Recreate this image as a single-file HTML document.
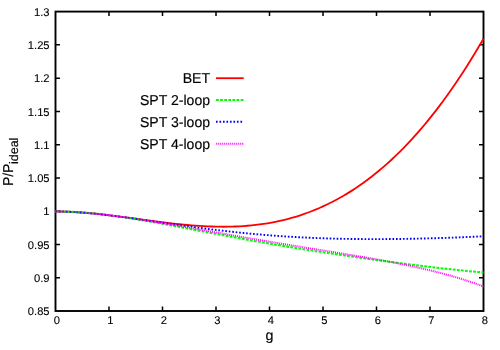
<!DOCTYPE html>
<html><head><meta charset="utf-8"><title>chart</title>
<style>
html,body{margin:0;padding:0;background:#fff;}
body{width:500px;height:350px;overflow:hidden;}
svg{display:block;will-change:transform;}
text{font-family:"Liberation Sans",sans-serif;fill:#000;text-rendering:geometricPrecision;}
.t{font-size:11.2px;stroke:#000;stroke-width:0.1px;}
.l{font-size:14.3px;stroke:#000;stroke-width:0.15px;}
</style></head><body>
<svg width="500" height="350" viewBox="0 0 500 350">
<rect x="0" y="0" width="500" height="350" fill="#fff"/>

<rect x="55.5" y="11.6" width="428.0" height="299.4" fill="none" stroke="#000" stroke-width="1.9"/>
<text class="t" x="56.90" y="324.1" text-anchor="middle">0</text>
<text class="t" x="110.40" y="324.1" text-anchor="middle">1</text>
<text class="t" x="163.90" y="324.1" text-anchor="middle">2</text>
<text class="t" x="217.40" y="324.1" text-anchor="middle">3</text>
<text class="t" x="270.90" y="324.1" text-anchor="middle">4</text>
<text class="t" x="324.40" y="324.1" text-anchor="middle">5</text>
<text class="t" x="377.90" y="324.1" text-anchor="middle">6</text>
<text class="t" x="431.40" y="324.1" text-anchor="middle">7</text>
<text class="t" x="484.90" y="324.1" text-anchor="middle">8</text>
<text class="t" x="49.6" y="15.80" text-anchor="end">1.3</text>
<text class="t" x="49.6" y="49.07" text-anchor="end">1.25</text>
<text class="t" x="49.6" y="82.33" text-anchor="end">1.2</text>
<text class="t" x="49.6" y="115.60" text-anchor="end">1.15</text>
<text class="t" x="49.6" y="148.87" text-anchor="end">1.1</text>
<text class="t" x="49.6" y="182.13" text-anchor="end">1.05</text>
<text class="t" x="49.6" y="215.40" text-anchor="end">1</text>
<text class="t" x="49.6" y="248.67" text-anchor="end">0.95</text>
<text class="t" x="49.6" y="281.93" text-anchor="end">0.9</text>
<text class="t" x="49.6" y="315.20" text-anchor="end">0.85</text>
<path d="M109.00,311.0 v-4.5 M109.00,11.6 v4.5 M162.50,311.0 v-4.5 M162.50,11.6 v4.5 M216.00,311.0 v-4.5 M216.00,11.6 v4.5 M269.50,311.0 v-4.5 M269.50,11.6 v4.5 M323.00,311.0 v-4.5 M323.00,11.6 v4.5 M376.50,311.0 v-4.5 M376.50,11.6 v4.5 M430.00,311.0 v-4.5 M430.00,11.6 v4.5 M55.5,44.87 h4.5 M483.5,44.87 h-4.5 M55.5,78.13 h4.5 M483.5,78.13 h-4.5 M55.5,111.40 h4.5 M483.5,111.40 h-4.5 M55.5,144.67 h4.5 M483.5,144.67 h-4.5 M55.5,177.93 h4.5 M483.5,177.93 h-4.5 M55.5,211.20 h4.5 M483.5,211.20 h-4.5 M55.5,244.47 h4.5 M483.5,244.47 h-4.5 M55.5,277.73 h4.5 M483.5,277.73 h-4.5" stroke="#000" stroke-width="1.5" fill="none"/>
<g fill="none" stroke-linejoin="round">
<path d="M55.50,211.51 L59.50,211.52 L63.50,211.59 L67.50,211.71 L71.50,211.87 L75.50,212.08 L79.50,212.33 L83.50,212.63 L87.50,212.95 L91.50,213.31 L95.50,213.71 L99.50,214.13 L103.50,214.57 L107.50,215.04 L111.50,215.52 L115.50,216.02 L119.50,216.54 L123.50,217.07 L127.50,217.61 L131.50,218.15 L135.50,218.70 L139.50,219.24 L143.50,219.79 L147.50,220.33 L151.50,220.87 L155.50,221.40 L159.50,221.91 L163.50,222.41 L167.50,222.90 L171.50,223.37 L175.50,223.81 L179.50,224.24 L183.50,224.64 L187.50,225.01 L191.50,225.35 L195.50,225.66 L199.50,225.93 L203.50,226.17 L207.50,226.37 L211.50,226.52 L215.50,226.64 L219.50,226.71 L223.50,226.73 L227.50,226.70 L231.50,226.63 L235.50,226.49 L239.50,226.31 L243.50,226.06 L247.50,225.76 L251.50,225.39 L255.50,224.97 L259.50,224.47 L263.50,223.91 L267.50,223.28 L271.50,222.58 L275.50,221.81 L279.50,220.96 L283.50,220.03 L287.50,219.03 L291.50,217.95 L295.50,216.78 L299.50,215.53 L303.50,214.20 L307.50,212.77 L311.50,211.26 L315.50,209.66 L319.50,207.96 L323.50,206.17 L327.50,204.29 L331.50,202.31 L335.50,200.22 L339.50,198.04 L343.50,195.75 L347.50,193.36 L351.50,190.87 L355.50,188.26 L359.50,185.55 L363.50,182.72 L367.50,179.79 L371.50,176.73 L375.50,173.57 L379.50,170.28 L383.50,166.88 L387.50,163.35 L391.50,159.71 L395.50,155.94 L399.50,152.04 L403.50,148.02 L407.50,143.87 L411.50,139.59 L415.50,135.18 L419.50,130.64 L423.50,125.96 L427.50,121.14 L431.50,116.19 L435.50,111.10 L439.50,105.87 L443.50,100.50 L447.50,94.98 L451.50,89.32 L455.50,83.51 L459.50,77.55 L463.50,71.44 L467.50,65.19 L471.50,58.78 L475.50,52.21 L479.50,45.49 L483.50,38.61" stroke="#ff0000" stroke-width="1.8"/>
<path d="M55.50,211.60 L59.50,211.57 L63.50,211.59 L67.50,211.68 L71.50,211.81 L75.50,212.00 L79.50,212.23 L83.50,212.51 L87.50,212.82 L91.50,213.18 L95.50,213.58 L99.50,214.01 L103.50,214.47 L107.50,214.96 L111.50,215.48 L115.50,216.03 L119.50,216.60 L123.50,217.20 L127.50,217.81 L131.50,218.45 L135.50,219.10 L139.50,219.77 L143.50,220.45 L147.50,221.14 L151.50,221.85 L155.50,222.57 L159.50,223.29 L163.50,224.03 L167.50,224.77 L171.50,225.51 L175.50,226.27 L179.50,227.02 L183.50,227.78 L187.50,228.54 L191.50,229.30 L195.50,230.06 L199.50,230.82 L203.50,231.58 L207.50,232.34 L211.50,233.10 L215.50,233.85 L219.50,234.61 L223.50,235.35 L227.50,236.10 L231.50,236.84 L235.50,237.58 L239.50,238.31 L243.50,239.03 L247.50,239.76 L251.50,240.47 L255.50,241.18 L259.50,241.89 L263.50,242.59 L267.50,243.28 L271.50,243.97 L275.50,244.65 L279.50,245.33 L283.50,246.00 L287.50,246.66 L291.50,247.32 L295.50,247.97 L299.50,248.62 L303.50,249.26 L307.50,249.89 L311.50,250.52 L315.50,251.14 L319.50,251.76 L323.50,252.37 L327.50,252.98 L331.50,253.58 L335.50,254.18 L339.50,254.77 L343.50,255.36 L347.50,255.94 L351.50,256.52 L355.50,257.09 L359.50,257.66 L363.50,258.23 L367.50,258.78 L371.50,259.34 L375.50,259.89 L379.50,260.44 L383.50,260.98 L387.50,261.51 L391.50,262.05 L395.50,262.57 L399.50,263.10 L403.50,263.62 L407.50,264.13 L411.50,264.64 L415.50,265.14 L419.50,265.63 L423.50,266.13 L427.50,266.61 L431.50,267.09 L435.50,267.56 L439.50,268.02 L443.50,268.48 L447.50,268.92 L451.50,269.36 L455.50,269.79 L459.50,270.21 L463.50,270.62 L467.50,271.01 L471.50,271.40 L475.50,271.77 L479.50,272.12 L483.50,272.46" stroke="#00ff00" stroke-width="2" stroke-dasharray="2.8 1.3"/>
<path d="M55.50,211.40 L59.50,211.46 L63.50,211.57 L67.50,211.72 L71.50,211.91 L75.50,212.14 L79.50,212.41 L83.50,212.71 L87.50,213.05 L91.50,213.42 L95.50,213.81 L99.50,214.23 L103.50,214.67 L107.50,215.13 L111.50,215.61 L115.50,216.11 L119.50,216.62 L123.50,217.15 L127.50,217.68 L131.50,218.23 L135.50,218.79 L139.50,219.35 L143.50,219.92 L147.50,220.50 L151.50,221.08 L155.50,221.66 L159.50,222.23 L163.50,222.81 L167.50,223.39 L171.50,223.97 L175.50,224.54 L179.50,225.10 L183.50,225.67 L187.50,226.22 L191.50,226.77 L195.50,227.31 L199.50,227.84 L203.50,228.36 L207.50,228.88 L211.50,229.38 L215.50,229.87 L219.50,230.35 L223.50,230.82 L227.50,231.28 L231.50,231.73 L235.50,232.16 L239.50,232.58 L243.50,232.99 L247.50,233.38 L251.50,233.77 L255.50,234.13 L259.50,234.49 L263.50,234.83 L267.50,235.15 L271.50,235.47 L275.50,235.77 L279.50,236.05 L283.50,236.32 L287.50,236.58 L291.50,236.82 L295.50,237.06 L299.50,237.27 L303.50,237.48 L307.50,237.67 L311.50,237.85 L315.50,238.01 L319.50,238.17 L323.50,238.31 L327.50,238.43 L331.50,238.55 L335.50,238.66 L339.50,238.75 L343.50,238.83 L347.50,238.90 L351.50,238.97 L355.50,239.02 L359.50,239.06 L363.50,239.09 L367.50,239.11 L371.50,239.12 L375.50,239.12 L379.50,239.11 L383.50,239.10 L387.50,239.07 L391.50,239.04 L395.50,239.00 L399.50,238.95 L403.50,238.90 L407.50,238.83 L411.50,238.76 L415.50,238.68 L419.50,238.59 L423.50,238.50 L427.50,238.40 L431.50,238.29 L435.50,238.18 L439.50,238.06 L443.50,237.93 L447.50,237.79 L451.50,237.65 L455.50,237.50 L459.50,237.34 L463.50,237.18 L467.50,237.01 L471.50,236.83 L475.50,236.64 L479.50,236.44 L483.50,236.23" stroke="#0000ff" stroke-width="1.9" stroke-dasharray="1.65 1.84"/>
<path d="M55.50,211.41 L59.50,211.49 L63.50,211.60 L67.50,211.76 L71.50,211.95 L75.50,212.18 L79.50,212.44 L83.50,212.73 L87.50,213.05 L91.50,213.40 L95.50,213.78 L99.50,214.18 L103.50,214.61 L107.50,215.07 L111.50,215.54 L115.50,216.04 L119.50,216.56 L123.50,217.09 L127.50,217.65 L131.50,218.22 L135.50,218.80 L139.50,219.40 L143.50,220.01 L147.50,220.64 L151.50,221.28 L155.50,221.92 L159.50,222.58 L163.50,223.24 L167.50,223.92 L171.50,224.60 L175.50,225.28 L179.50,225.98 L183.50,226.67 L187.50,227.37 L191.50,228.07 L195.50,228.78 L199.50,229.49 L203.50,230.20 L207.50,230.91 L211.50,231.62 L215.50,232.33 L219.50,233.04 L223.50,233.74 L227.50,234.45 L231.50,235.16 L235.50,235.86 L239.50,236.56 L243.50,237.26 L247.50,237.95 L251.50,238.64 L255.50,239.33 L259.50,240.01 L263.50,240.70 L267.50,241.37 L271.50,242.05 L275.50,242.72 L279.50,243.39 L283.50,244.05 L287.50,244.71 L291.50,245.37 L295.50,246.03 L299.50,246.68 L303.50,247.33 L307.50,247.98 L311.50,248.62 L315.50,249.27 L319.50,249.92 L323.50,250.56 L327.50,251.20 L331.50,251.85 L335.50,252.50 L339.50,253.15 L343.50,253.80 L347.50,254.45 L351.50,255.11 L355.50,255.78 L359.50,256.45 L363.50,257.12 L367.50,257.81 L371.50,258.50 L375.50,259.20 L379.50,259.91 L383.50,260.64 L387.50,261.37 L391.50,262.12 L395.50,262.89 L399.50,263.67 L403.50,264.47 L407.50,265.29 L411.50,266.13 L415.50,266.99 L419.50,267.87 L423.50,268.78 L427.50,269.71 L431.50,270.67 L435.50,271.67 L439.50,272.69 L443.50,273.74 L447.50,274.83 L451.50,275.96 L455.50,277.13 L459.50,278.33 L463.50,279.58 L467.50,280.87 L471.50,282.21 L475.50,283.60 L479.50,285.03 L483.50,286.52" stroke="#ff00ff" stroke-width="2" stroke-dasharray="1 0.95"/>
<path d="M216,78.2 L243.7,78.2" stroke="#ff0000" stroke-width="1.8"/>
<path d="M216,100 L243.6,100" stroke="#00ff00" stroke-width="2" stroke-dasharray="2.8 1.3"/>
<path d="M216,121.8 L243,121.8" stroke="#0000ff" stroke-width="1.9" stroke-dasharray="1.65 1.84"/>
<path d="M216.25,143.8 L243.4,143.8" stroke="#ff00ff" stroke-width="2" stroke-dasharray="1 1"/>
</g>
<text class="l" transform="translate(210.1,82.50) scale(0.984,1)" text-anchor="end">BET</text>
<text class="l" transform="translate(210.1,104.70) scale(0.984,1)" text-anchor="end">SPT 2-loop</text>
<text class="l" transform="translate(210.1,126.50) scale(0.984,1)" text-anchor="end">SPT 3-loop</text>
<text class="l" transform="translate(210.1,148.50) scale(0.984,1)" text-anchor="end">SPT 4-loop</text>
<text class="l" x="269.5" y="340.4" text-anchor="middle">g</text>
<text class="l" transform="translate(12.6,186.1) rotate(-90) scale(0.975,1)">P/P</text>
<text class="l" style="font-size:12.4px" transform="translate(18.2,163.9) rotate(-90)">ideal</text>
</svg></body></html>
